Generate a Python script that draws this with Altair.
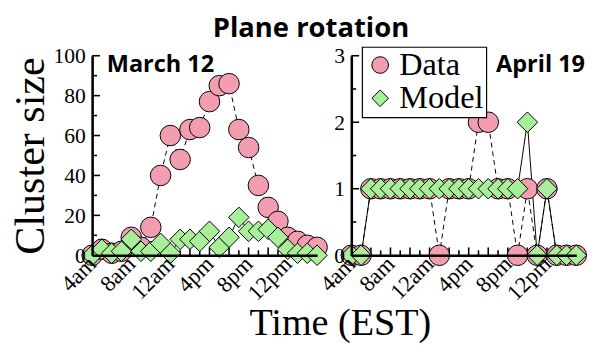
import json
import altair as alt
import pandas as pd

# ---- data ----
hours = list(range(24))                       # hours after 4am
march_data = [0, 3, 1, 2, 9, 4, 14, 40, 60, 48, 63, 64, 77, 85, 86, 63, 54, 35, 24, 17, 9, 7, 5, 4]
march_model = [0, 3, 1, 2, 8, 2, 2, 6, 1, 8, 8, 7, 12, 4, 9, 19, 12, 12, 13, 9, 3, 1, 1, 0]
april_data = [0, 0, 1, 1, 1, 1, 1, 1, 1, 0, 1, 1, 1, 2, 2, 1, 1, 0, 1, 0, 1, 0, 0, 0]
april_model = [0, 0, 1, 1, 1, 1, 1, 1, 1, 1, 1, 1, 1, 1, 1, 1, 1, 1, 2, 0, 1, 0, 0, 0]
series_names = ["Data", "Model"]
tick_hours = [0, 4, 8, 12, 16, 20]
tick_labels = ["4am", "8am", "12am", "4pm", "8pm", "12pm"]
x_major_ticks = list(range(0, 24, 2))
x_minor_ticks = list(range(1, 24, 2))
left_y_major = [0, 20, 40, 60, 80, 100]
left_y_minor = [10, 30, 50, 70, 90]
right_y_major = [0, 1, 2, 3]
right_y_minor = [0.5, 1.5, 2.5]

PINK = "#F29DB0"
GREEN = "#A9EE98"
SERIF = "Liberation Serif"
SANS = "Open Sans"
W, H = 230, 204

label_expr = json.dumps(tick_labels) + "[round(datum.value / 4)]"

LEGEND = alt.Legend(orient="none", legendX=276, legendY=-9, title=None,
                    direction="vertical", fillColor="white", strokeColor="black",
                    padding=2, labelFont=SERIF, labelFontSize=33, labelColor="black",
                    labelOffset=3, symbolSize=289, symbolStrokeColor="black",
                    symbolStrokeWidth=1, rowPadding=0)


def panel(data_vals, model_vals, ymax, ymaj, ymin, ytitle, label, label_x):
    df = pd.DataFrame({
        "h": hours + hours,
        "v": data_vals + model_vals,
        "series": ["Data"] * len(hours) + ["Model"] * len(hours),
    })
    df_data = pd.DataFrame({"h": hours, "v": data_vals})
    df_model = pd.DataFrame({"h": hours, "v": model_vals})
    xs = alt.Scale(domain=[0, 23], nice=False, zero=False)
    ys = alt.Scale(domain=[0, ymax], nice=False)
    xaxis = alt.Axis(values=tick_hours, labelExpr=label_expr, title=None, ticks=False,
                     tickSize=0, grid=False, domainColor="black", domainWidth=2.6,
                     labelAngle=315, labelAlign="right", labelBaseline="middle",
                     labelPadding=5, labelFont=SERIF, labelFontSize=23, labelColor="black",
                     labelOverlap=False, labelFlush=False, zindex=1)
    yargs = dict(values=ymaj, ticks=False, tickSize=0, grid=False, domainColor="black",
                 domainWidth=2.6, labelPadding=7, labelFont=SERIF, labelFontSize=22,
                 labelColor="black", labelOverlap=False, labelFlush=False, zindex=1)
    if ytitle:
        yaxis = alt.Axis(title=ytitle, titleFont=SERIF, titleFontSize=43,
                         titleFontWeight="normal", titleColor="black", titlePadding=1, **yargs)
    else:
        yaxis = alt.Axis(title=None, **yargs)

    X = lambda f: alt.X(f, scale=xs, axis=xaxis)
    Y = lambda f: alt.Y(f, scale=ys, axis=yaxis)

    line_data = alt.Chart(df_data).mark_line(color="black", strokeWidth=1,
                                             strokeDash=[5, 4]).encode(x=X("h:Q"), y=Y("v:Q"))
    line_model = alt.Chart(df_model).mark_line(color="black", strokeWidth=1).encode(
        x=X("h:Q"), y=Y("v:Q"))
    points = alt.Chart(df).mark_point(filled=True, stroke="black", strokeWidth=1,
                                      opacity=1, size=440).encode(
        x=X("h:Q"), y=Y("v:Q"),
        shape=alt.Shape("series:N", scale=alt.Scale(domain=series_names,
                        range=["circle", "diamond"]), legend=LEGEND),
        color=alt.Color("series:N", scale=alt.Scale(domain=series_names,
                        range=[PINK, GREEN]), legend=LEGEND),
    )
    xt_major = alt.Chart(pd.DataFrame({"h": x_major_ticks})).mark_rule(
        color="black", strokeWidth=1.6).encode(x=X("h:Q"), y=alt.value(H), y2=alt.value(H - 8))
    xt_minor = alt.Chart(pd.DataFrame({"h": x_minor_ticks})).mark_rule(
        color="black", strokeWidth=1.6).encode(x=X("h:Q"), y=alt.value(H), y2=alt.value(H - 5))
    yt_major = alt.Chart(pd.DataFrame({"v": ymaj})).mark_rule(
        color="black", strokeWidth=1.6).encode(y=Y("v:Q"), x=alt.value(0), x2=alt.value(8))
    yt_minor = alt.Chart(pd.DataFrame({"v": ymin})).mark_rule(
        color="black", strokeWidth=1.6).encode(y=Y("v:Q"), x=alt.value(0), x2=alt.value(5))
    text = alt.Chart(pd.DataFrame({"t": [label]})).mark_text(
        font=SANS, fontWeight="bold", fontSize=24, align="left", baseline="alphabetic",
        color="black").encode(text="t:N", x=alt.value(label_x), y=alt.value(17))

    return alt.layer(xt_major, xt_minor, yt_major, yt_minor, line_data, line_model,
                     points, text).properties(width=W, height=H)


left = panel(march_data, march_model, 100, left_y_major, left_y_minor, "Cluster size",
             "March 12", 15)
right = panel(april_data, april_model, 3, right_y_major, right_y_minor, None,
              "April 19", 148)

row = alt.hconcat(left, right, spacing=35, bounds="flush").properties(
    title=alt.TitleParams("Plane rotation", font=SANS, fontWeight="bold",
                          fontSize=28, anchor="middle", frame="bounds",
                          offset=2, dx=12, color="black"))

chart = alt.vconcat(row, bounds="flush").properties(
    title=alt.TitleParams("Time (EST)", orient="bottom", font=SERIF, fontSize=39,
                          fontWeight="normal", anchor="middle", frame="bounds",
                          offset=0, dx=42, color="black"),
    padding={"left": 2, "top": 4, "right": 0, "bottom": 0},
).configure_view(strokeWidth=0).configure_legend(strokeWidth=1.2)

chart.save("out.html", embed_options={"renderer": "svg", "actions": False})
